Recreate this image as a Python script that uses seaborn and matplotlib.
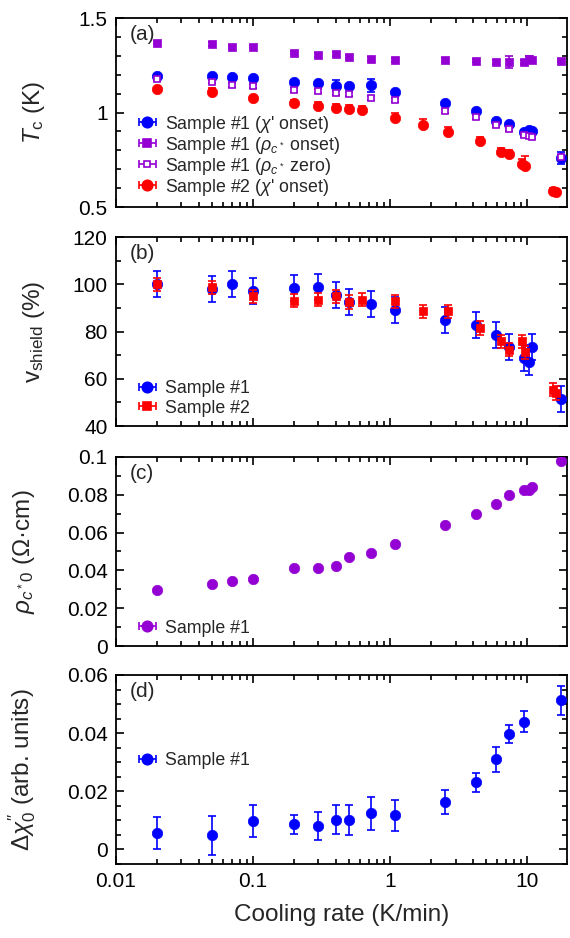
import numpy as np
import matplotlib
matplotlib.use("Agg")
import matplotlib.pyplot as plt
import seaborn as sns
from matplotlib.ticker import MultipleLocator, LogLocator, FuncFormatter, NullFormatter

# cooling rates (K/min)
rate_s1 = [0.02, 0.05, 0.07, 0.1, 0.2, 0.3, 0.4, 0.5, 0.72, 1.08, 2.5, 4.2, 5.9, 7.4, 9.4, 10.3, 10.8, 17.5]
rate_s2 = [0.02, 0.05, 0.1, 0.2, 0.3, 0.4, 0.5, 0.62, 1.08, 1.73, 2.66, 4.5, 6.4, 7.4, 9.2, 9.6, 15.3, 16.3]
rate_d = [0.02, 0.05, 0.1, 0.2, 0.3, 0.4, 0.5, 0.72, 1.08, 2.5, 4.2, 5.9, 7.4, 9.4, 17.5]

# (a) Tc
tc_s1_chi = [1.195, 1.195, 1.187, 1.181, 1.164, 1.155, 1.142, 1.141, 1.144, 1.107, 1.049, 1.010,
             0.957, 0.939, 0.898, 0.910, 0.900, 0.760]
tc_s1_chi_err = [0.008, 0.008, 0.008, 0.008, 0.008, 0.008, 0.03, 0.008, 0.035, 0.008, 0.008, 0.008,
                 0.008, 0.008, 0.008, 0.008, 0.008, 0.03]
tc_s1_rho_on = [1.370, 1.362, 1.349, 1.349, 1.317, 1.305, 1.311, 1.296, 1.284, 1.279, 1.279, 1.275,
                1.266, 1.266, 1.266, 1.285, 1.277, 1.275]
tc_s1_rho_on_err = [0.01, 0.01, 0.01, 0.01, 0.01, 0.01, 0.01, 0.01, 0.01, 0.01, 0.01, 0.01,
                    0.01, 0.033, 0.01, 0.015, 0.01, 0.01]
tc_s1_rho_zero = [1.178, 1.164, 1.146, 1.141, 1.119, 1.114, 1.105, 1.100, 1.075, 1.066, 1.008, 0.975,
                  0.934, 0.912, 0.881, 0.875, 0.868, 0.765]
tc_s1_rho_zero_err = [0.01] * 18
tc_s2_chi = [1.123, 1.110, 1.075, 1.049, 1.036, 1.022, 1.017, 1.013, 0.969, 0.934, 0.898, 0.850,
             0.792, 0.780, 0.725, 0.715, 0.585, 0.580]
tc_s2_chi_err_up = [0.008, 0.02, 0.01, 0.015, 0.02, 0.022, 0.022, 0.02, 0.03, 0.03, 0.025, 0.02,
                    0.022, 0.022, 0.03, 0.055, 0.015, 0.015]

# (b) shielding fraction
vs_s1 = [100.2, 98.0, 100.2, 97.0, 98.4, 98.7, 95.6, 92.5, 91.8, 89.3, 84.7, 82.6,
         78.4, 73.5, 68.8, 67.0, 73.5, 51.5]
vs_s1_err = [5.5] * 18
vs_s2 = [100.0, 98.7, 94.9, 93.1, 93.5, 94.9, 92.5, 93.4, 92.8, 88.5, 88.5, 81.5,
         75.9, 72.3, 75.9, 71.2, 55.4, 54.0]
vs_s2_err = [2.8] * 18

# (c) residual resistivity
rho0 = [0.0298, 0.0330, 0.0346, 0.0353, 0.0411, 0.0411, 0.0425, 0.0472, 0.0493, 0.0539, 0.0640, 0.0700,
        0.0753, 0.0798, 0.0825, 0.0828, 0.0842, 0.0977]

# (d) chi'' step
dchi = [0.00575, 0.0049, 0.0098, 0.0086, 0.0080, 0.0103, 0.0100, 0.0124, 0.0117, 0.0164, 0.0231,
        0.0311, 0.0397, 0.0440, 0.0513]
dchi_err = [0.0055, 0.0067, 0.0056, 0.0033, 0.0048, 0.0051, 0.0052, 0.0056, 0.0053, 0.0042, 0.0032,
            0.0043, 0.0032, 0.0036, 0.0050]

BLUE = "#0000ff"
RED = "#ff0000"
PURPLE = "#9400d3"

sns.set_theme(style="ticks")
plt.rcParams["font.family"] = ["Liberation Sans", "DejaVu Sans"]
plt.rcParams["mathtext.fontset"] = "custom"
plt.rcParams["mathtext.rm"] = "Liberation Sans"
plt.rcParams["mathtext.it"] = "Liberation Sans:italic"
plt.rcParams["mathtext.bf"] = "Liberation Sans:bold"
plt.rcParams["axes.linewidth"] = 1.3

fig = plt.figure(figsize=(5.7, 9.38), dpi=100)
left, width, height = 0.2035, 0.7912, 0.2015
bottoms = [0.7793, 0.5458, 0.3113, 0.0789]
axes = [fig.add_axes([left, b, width, height]) for b in bottoms]


def draw(ax, x, y, yerr, color, marker="o", ms=7.5, filled=True, z=3):
    ax.errorbar(x, y, yerr=yerr, fmt="none", ecolor=color, elinewidth=1.2,
                capsize=3, capthick=1.2, zorder=z)
    if filled:
        sns.scatterplot(x=x, y=y, ax=ax, color=color, marker=marker, s=ms ** 2,
                        edgecolor=color, linewidth=0.5, legend=False, zorder=z + 0.5)
    else:
        ax.plot(x, y, ls="none", marker=marker, ms=ms, mfc="white", mec=color,
                mew=1.2, zorder=z + 0.5)


def handle(ax, color, marker="o", ms=7.5, filled=True):
    return ax.errorbar([np.nan], [np.nan], xerr=[1], fmt=marker, color=color, ms=ms,
                       mfc=color if filled else "white", mec=color, mew=1.2,
                       elinewidth=1.2, capsize=3, capthick=1.2)


# (a)
ax = axes[0]
draw(ax, rate_s1, tc_s1_rho_on, tc_s1_rho_on_err, PURPLE, marker="s", ms=5.5, z=3)
draw(ax, rate_s1, tc_s1_chi, tc_s1_chi_err, BLUE, z=4)
draw(ax, rate_s1, tc_s1_rho_zero, tc_s1_rho_zero_err, PURPLE, marker="s", ms=5, filled=False, z=5)
draw(ax, rate_s2, tc_s2_chi, [np.zeros(len(tc_s2_chi)), tc_s2_chi_err_up], RED, z=6)
hs = [handle(ax, BLUE), handle(ax, PURPLE, "s", 5.5), handle(ax, PURPLE, "s", 5, False), handle(ax, RED)]
labs = ["Sample #1 ($\\chi$' onset)", "Sample #1 ($\\rho_{c^*}$ onset)",
        "Sample #1 ($\\rho_{c^*}$ zero)", "Sample #2 ($\\chi$' onset)"]
ax.set_ylim(0.5, 1.5)
ax.yaxis.set_major_locator(MultipleLocator(0.5))
ax.yaxis.set_minor_locator(MultipleLocator(0.1))
ax.set_ylabel("$T_\\mathrm{c}$ (K)")

# (b)
ax = axes[1]
draw(ax, rate_s1, vs_s1, vs_s1_err, BLUE, z=3)
draw(ax, rate_s2, vs_s2, vs_s2_err, RED, marker="s", ms=6, z=4)
ax.set_ylim(40, 120)
ax.yaxis.set_major_locator(MultipleLocator(20))
ax.yaxis.set_minor_locator(MultipleLocator(10))
ax.set_ylabel("v$_\\mathrm{shield}$ (%)")

# (c)
ax = axes[2]
draw(ax, rate_s1, rho0, [0.0] * len(rho0), PURPLE, z=3)
ax.set_ylim(0, 0.1)
ax.yaxis.set_major_locator(MultipleLocator(0.02))
ax.yaxis.set_minor_locator(MultipleLocator(0.01))
ax.set_ylabel("$\\rho_{c^*0}$ (Ω·cm)")

# (d)
ax = axes[3]
draw(ax, rate_d, dchi, dchi_err, BLUE, z=3)
ax.set_ylim(-0.005, 0.06)
ax.yaxis.set_major_locator(MultipleLocator(0.02))
ax.yaxis.set_minor_locator(MultipleLocator(0.005))
ax.set_ylabel("$\\mathit{\\Delta}\\chi_0^{\\prime\\prime}$ (arb. units)")
ax.set_xlabel("Cooling rate (K/min)", fontsize=17.5, labelpad=9)

legend_specs = [
    (axes[0], hs, labs, (0.05, 0.05), 0.0),
    (axes[1], [handle(axes[1], BLUE), handle(axes[1], RED, "s", 6)], ["Sample #1", "Sample #2"], (0.05, 0.05), 0.13),
    (axes[2], [handle(axes[2], PURPLE)], ["Sample #1"], (0.05, 0.05), 0.13),
    (axes[3], [handle(axes[3], BLUE)], ["Sample #1"], (0.05, 0.5), 0.13),
]
for ax, h, l, anchor, sp in legend_specs:
    ax.legend(h, l, loc="lower left", bbox_to_anchor=anchor, frameon=False, fontsize=12.8,
              handlelength=1.0, handletextpad=0.5, labelspacing=sp, borderpad=0,
              borderaxespad=0)

fmt = FuncFormatter(lambda v, p: f"{v:g}")
label_x = [-0.153, -0.152, -0.176, -0.172]
for i, (ax, tag) in enumerate(zip(axes, ["(a)", "(b)", "(c)", "(d)"])):
    ax.set_xscale("log")
    ax.set_xlim(0.01, 19.5)
    ax.xaxis.set_major_locator(LogLocator(base=10))
    ax.xaxis.set_minor_locator(LogLocator(base=10, subs=[2, 3, 4, 5, 6, 7, 8, 9]))
    ax.xaxis.set_minor_formatter(NullFormatter())
    ax.xaxis.set_major_formatter(fmt)
    ax.yaxis.set_major_formatter(fmt)
    ax.tick_params(which="both", direction="in", top=True, right=True, width=1.2,
                   labelsize=15, pad=6, colors="black")
    ax.tick_params(which="major", length=6)
    ax.tick_params(which="minor", length=3.5)
    if i < 3:
        ax.tick_params(axis="x", labelbottom=False)
    ax.yaxis.label.set_size(17.5)
    ax.yaxis.set_label_coords(label_x[i], 0.5)
    ax.text(0.03, 0.965, tag, transform=ax.transAxes, ha="left", va="top", fontsize=15)
    for s in ax.spines.values():
        s.set_color("black")

fig.savefig("out.png", dpi=100)
